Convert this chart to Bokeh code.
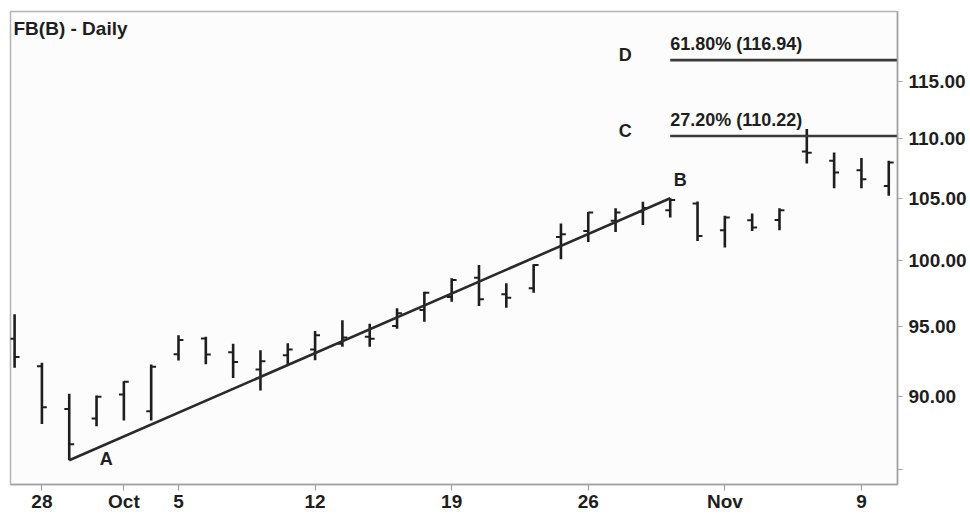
from bokeh.plotting import figure
from bokeh.models import ColumnDataSource, FixedTicker, Label, Range1d
from bokeh.embed import file_html
from bokeh.resources import INLINE

# ---- data ----
dates = ["Sep 25", "Sep 28", "Sep 29", "Sep 30", "Oct 1", "Oct 2", "Oct 5", "Oct 6",
         "Oct 7", "Oct 8", "Oct 9", "Oct 12", "Oct 13", "Oct 14", "Oct 15", "Oct 16",
         "Oct 19", "Oct 20", "Oct 21", "Oct 22", "Oct 23", "Oct 26", "Oct 27", "Oct 28",
         "Oct 29", "Oct 30", "Nov 2", "Nov 3", "Nov 4", "Nov 5", "Nov 6", "Nov 9", "Nov 10"]
opens = [94.10, 92.12, 89.10, 88.43, 90.11, 88.94, 92.97, 94.13,
         93.13, 91.88, 92.91, 93.33, 93.75, 94.25, 95.04, 96.24,
         97.22, 98.70, 97.43, 97.88, 101.88, 102.36, 103.17, 103.90,
         104.03, 104.57, 102.42, 103.22, 103.24, 108.90, 108.12, 107.33, 106.02]
highs = [95.92, 92.36, 90.15, 90.03, 91.05, 92.24, 94.36, 94.25,
         93.74, 93.26, 93.77, 94.67, 95.47, 95.21, 96.37, 97.62,
         98.65, 99.68, 98.27, 99.73, 102.95, 103.89, 104.19, 104.71,
         105.00, 104.73, 103.57, 103.76, 104.19, 110.83, 108.82, 108.34, 108.12]
lows = [92.00, 88.06, 85.60, 87.90, 88.29, 88.29, 92.53, 92.25,
        91.28, 90.39, 92.19, 92.55, 93.52, 93.52, 94.84, 95.36,
        96.86, 96.54, 96.41, 97.55, 100.12, 101.49, 102.28, 102.84,
        103.43, 101.57, 101.04, 102.36, 102.42, 107.89, 105.83, 105.83, 105.20]
closes = [92.77, 89.21, 86.67, 89.94, 91.00, 92.07, 94.01, 92.96,
          92.41, 92.48, 93.33, 94.36, 94.20, 94.10, 95.99, 97.55,
          98.52, 97.05, 97.17, 99.68, 102.10, 103.84, 103.84, 104.20,
          104.85, 101.96, 103.43, 102.63, 104.03, 108.80, 107.13, 106.58, 107.97]

x_tick_dates = ["Sep 28", "Oct 1", "Oct 5", "Oct 12", "Oct 19", "Oct 26", "Nov 2", "Nov 9"]
x_tick_labels = ["28", "Oct", "5", "12", "19", "26", "Nov", "9"]
y_tick_values = [85, 90, 95, 100, 105, 110, 115]
y_tick_labels = ["", "90.00", "95.00", "100.00", "105.00", "110.00", "115.00"]

swing_dates = ["Sep 29", "Oct 29"]      # A (low) and B (high)
swing_letters = ["A", "B"]
fib_levels = [110.22, 116.94]
fib_texts = ["27.20% (110.22)", "61.80% (116.94)"]
fib_letters = ["C", "D"]

title_text = "FB(B) - Daily"

# ---- build ----
FONT = "Liberation Sans"
INK = "#1e1e1e"
x_start, x_end = -0.15, 32.32
y_start, y_end = 84.0, 121.46

xs = list(range(len(dates)))
tick_half = 0.18
src = ColumnDataSource(dict(
    x=xs,
    xl=[x - tick_half for x in xs],
    xr=[x + tick_half for x in xs],
    open=opens, high=highs, low=lows, close=closes,
))

p = figure(width=969, height=514,
           x_range=Range1d(x_start, x_end), y_range=Range1d(y_start, y_end),
           y_axis_type="log", y_axis_location="right",
           output_backend="svg", toolbar_location=None,
           min_border_left=10, min_border_top=11, min_border_right=0, min_border_bottom=0)

p.background_fill_color = "#fcfcfc"
p.border_fill_color = "white"
p.outline_line_color = "#b4b4b4"
p.outline_line_width = 1.5
p.xgrid.visible = False
p.ygrid.visible = False

# OHLC bars
p.segment(x0="x", x1="x", y0="low", y1="high", source=src, line_width=2.6, line_color=INK)
p.segment(x0="xl", x1="x", y0="open", y1="open", source=src, line_width=2.0, line_color=INK)
p.segment(x0="x", x1="xr", y0="close", y1="close", source=src, line_width=2.0, line_color=INK)

# A-B swing line
iA = dates.index(swing_dates[0])
iB = dates.index(swing_dates[1])
p.line(x=[iA, iB], y=[lows[iA], highs[iB]], line_width=2.6, line_color="#2a2a2a")

# Fibonacci extension lines
p.segment(x0=[iB] * len(fib_levels), x1=[x_end] * len(fib_levels),
          y0=fib_levels, y1=fib_levels, line_width=2.6, line_color="#3a3a3a")

def lab(size="18px", **kw):
    base = dict(text_font=FONT, text_font_style="bold", text_font_size=size, text_color=INK)
    base.update(kw)
    p.add_layout(Label(**base))

for lvl, txt, let in zip(fib_levels, fib_texts, fib_letters):
    lab(x=iB, y=lvl, text=txt, x_offset=0, y_offset=16, text_align="left", text_baseline="alphabetic")
    lab(x=iB, y=lvl, text=let, x_offset=-45, y_offset=5, text_align="center", text_baseline="middle")

lab(x=iA, y=lows[iA], text=swing_letters[0], x_offset=37, y_offset=1,
    text_align="center", text_baseline="middle")
lab(x=iB, y=highs[iB], text=swing_letters[1], x_offset=10, y_offset=18,
    text_align="center", text_baseline="middle")

lab(size="19px", x=x_start, y=y_end, text=title_text, x_offset=3, y_offset=-6,
    text_align="left", text_baseline="top")

# axes
xa = p.xaxis[0]
xa.ticker = FixedTicker(ticks=[dates.index(d) for d in x_tick_dates])
xa.major_label_overrides = {dates.index(d): t for d, t in zip(x_tick_dates, x_tick_labels)}
ya = p.yaxis[0]
ya.ticker = FixedTicker(ticks=y_tick_values)
ya.major_label_overrides = {v: t for v, t in zip(y_tick_values, y_tick_labels)}

for ax in (xa, ya):
    ax.axis_line_color = "#a0a0a0"
    ax.axis_line_width = 1.5
    ax.major_tick_line_color = "#a0a0a0"
    ax.major_tick_line_width = 1.2
    ax.major_tick_in = 0
    ax.minor_tick_line_color = None
    ax.major_label_text_font = FONT
    ax.major_label_text_font_style = "bold"
    ax.major_label_text_font_size = "19px"
    ax.major_label_text_color = INK
xa.major_tick_out = 6
xa.major_label_standoff = 0
ya.major_tick_out = 5
ya.major_label_standoff = 6

open("out.html", "w").write(file_html(p, INLINE))
